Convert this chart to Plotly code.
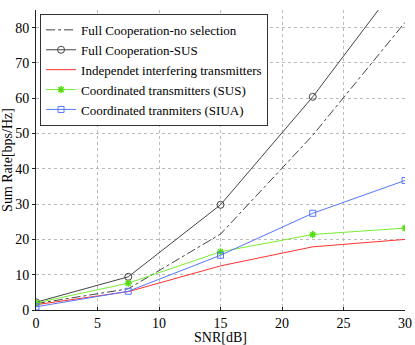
import plotly.graph_objects as go

snr = [0, 7.5, 15, 22.5, 30]
full_nosel = [1.8, 6.0, 21.5, 49.5, 81.5]
full_sus = [2.2, 9.4, 29.8, 60.4, 95.0]
indep = [1.5, 5.2, 12.5, 17.9, 20.0]
coord_sus = [2.0, 7.6, 16.5, 21.4, 23.2]
coord_siua = [0.9, 5.3, 15.5, 27.4, 36.7]

x_ticks = [0, 5, 10, 15, 20, 25, 30]
y_ticks = [0, 10, 20, 30, 40, 50, 60, 70, 80]

names = ["Full Cooperation-no selection", "Full Cooperation-SUS",
         "Independet interfering transmitters", "Coordinated transmitters (SUS)",
         "Coordinated tranmiters (SIUA)"]

FONT = "Liberation Serif, DejaVu Serif, serif"

fig = go.Figure()
fig.add_trace(go.Scatter(x=snr, y=full_nosel, name=names[0], mode="lines",
                         line=dict(color="#444444", width=1, dash="dashdot")))
fig.add_trace(go.Scatter(x=snr, y=full_sus, name=names[1], mode="lines+markers",
                         line=dict(color="#444444", width=1),
                         marker=dict(symbol="circle-open", size=7, color="#444444", line=dict(width=1))))
fig.add_trace(go.Scatter(x=snr, y=indep, name=names[2], mode="lines",
                         line=dict(color="#ff3030", width=1)))
fig.add_trace(go.Scatter(x=snr, y=coord_sus, name=names[3], mode="lines+markers",
                         line=dict(color="#77ee33", width=1),
                         marker=dict(symbol="asterisk-open", size=6, color="#55dd11", line=dict(width=1.5))))
fig.add_trace(go.Scatter(x=snr, y=coord_siua, name=names[4], mode="lines+markers",
                         line=dict(color="#5577ff", width=1),
                         marker=dict(symbol="square-open", size=6, color="#5577ff", line=dict(width=1))))

axis_common = dict(showline=True, linecolor="#222222", linewidth=1, mirror=False,
                   ticklen=3, tickcolor="#222222", automargin=False,
                   showgrid=True, gridcolor="#bbbbbb", griddash="dot", gridwidth=1,
                   zeroline=False, tickfont=dict(family=FONT, size=14, color="black"))

fig.update_layout(
    width=415, height=345,
    margin=dict(l=36, r=10, t=10, b=35),
    paper_bgcolor="white", plot_bgcolor="white",
    font=dict(family=FONT, color="black"),
    showlegend=True,
    legend=dict(x=0.011, y=0.987, xanchor="left", yanchor="top",
                bgcolor="white", bordercolor="#333333", borderwidth=1,
                font=dict(family=FONT, size=13, color="black"),
                tracegroupgap=0, itemwidth=30),
    xaxis=dict(range=[0, 30], tickvals=x_ticks, ticks="inside",
               title=dict(text="SNR[dB]", font=dict(family=FONT, size=14)), **axis_common),
    yaxis=dict(range=[0, 85], tickvals=y_ticks, ticks="outside",
               title=dict(text="Sum Rate[bps/Hz]", font=dict(family=FONT, size=14)), **axis_common),
)

fig.write_html("out.html", config={"displayModeBar": False},
               post_script="document.body.style.margin='0';")
